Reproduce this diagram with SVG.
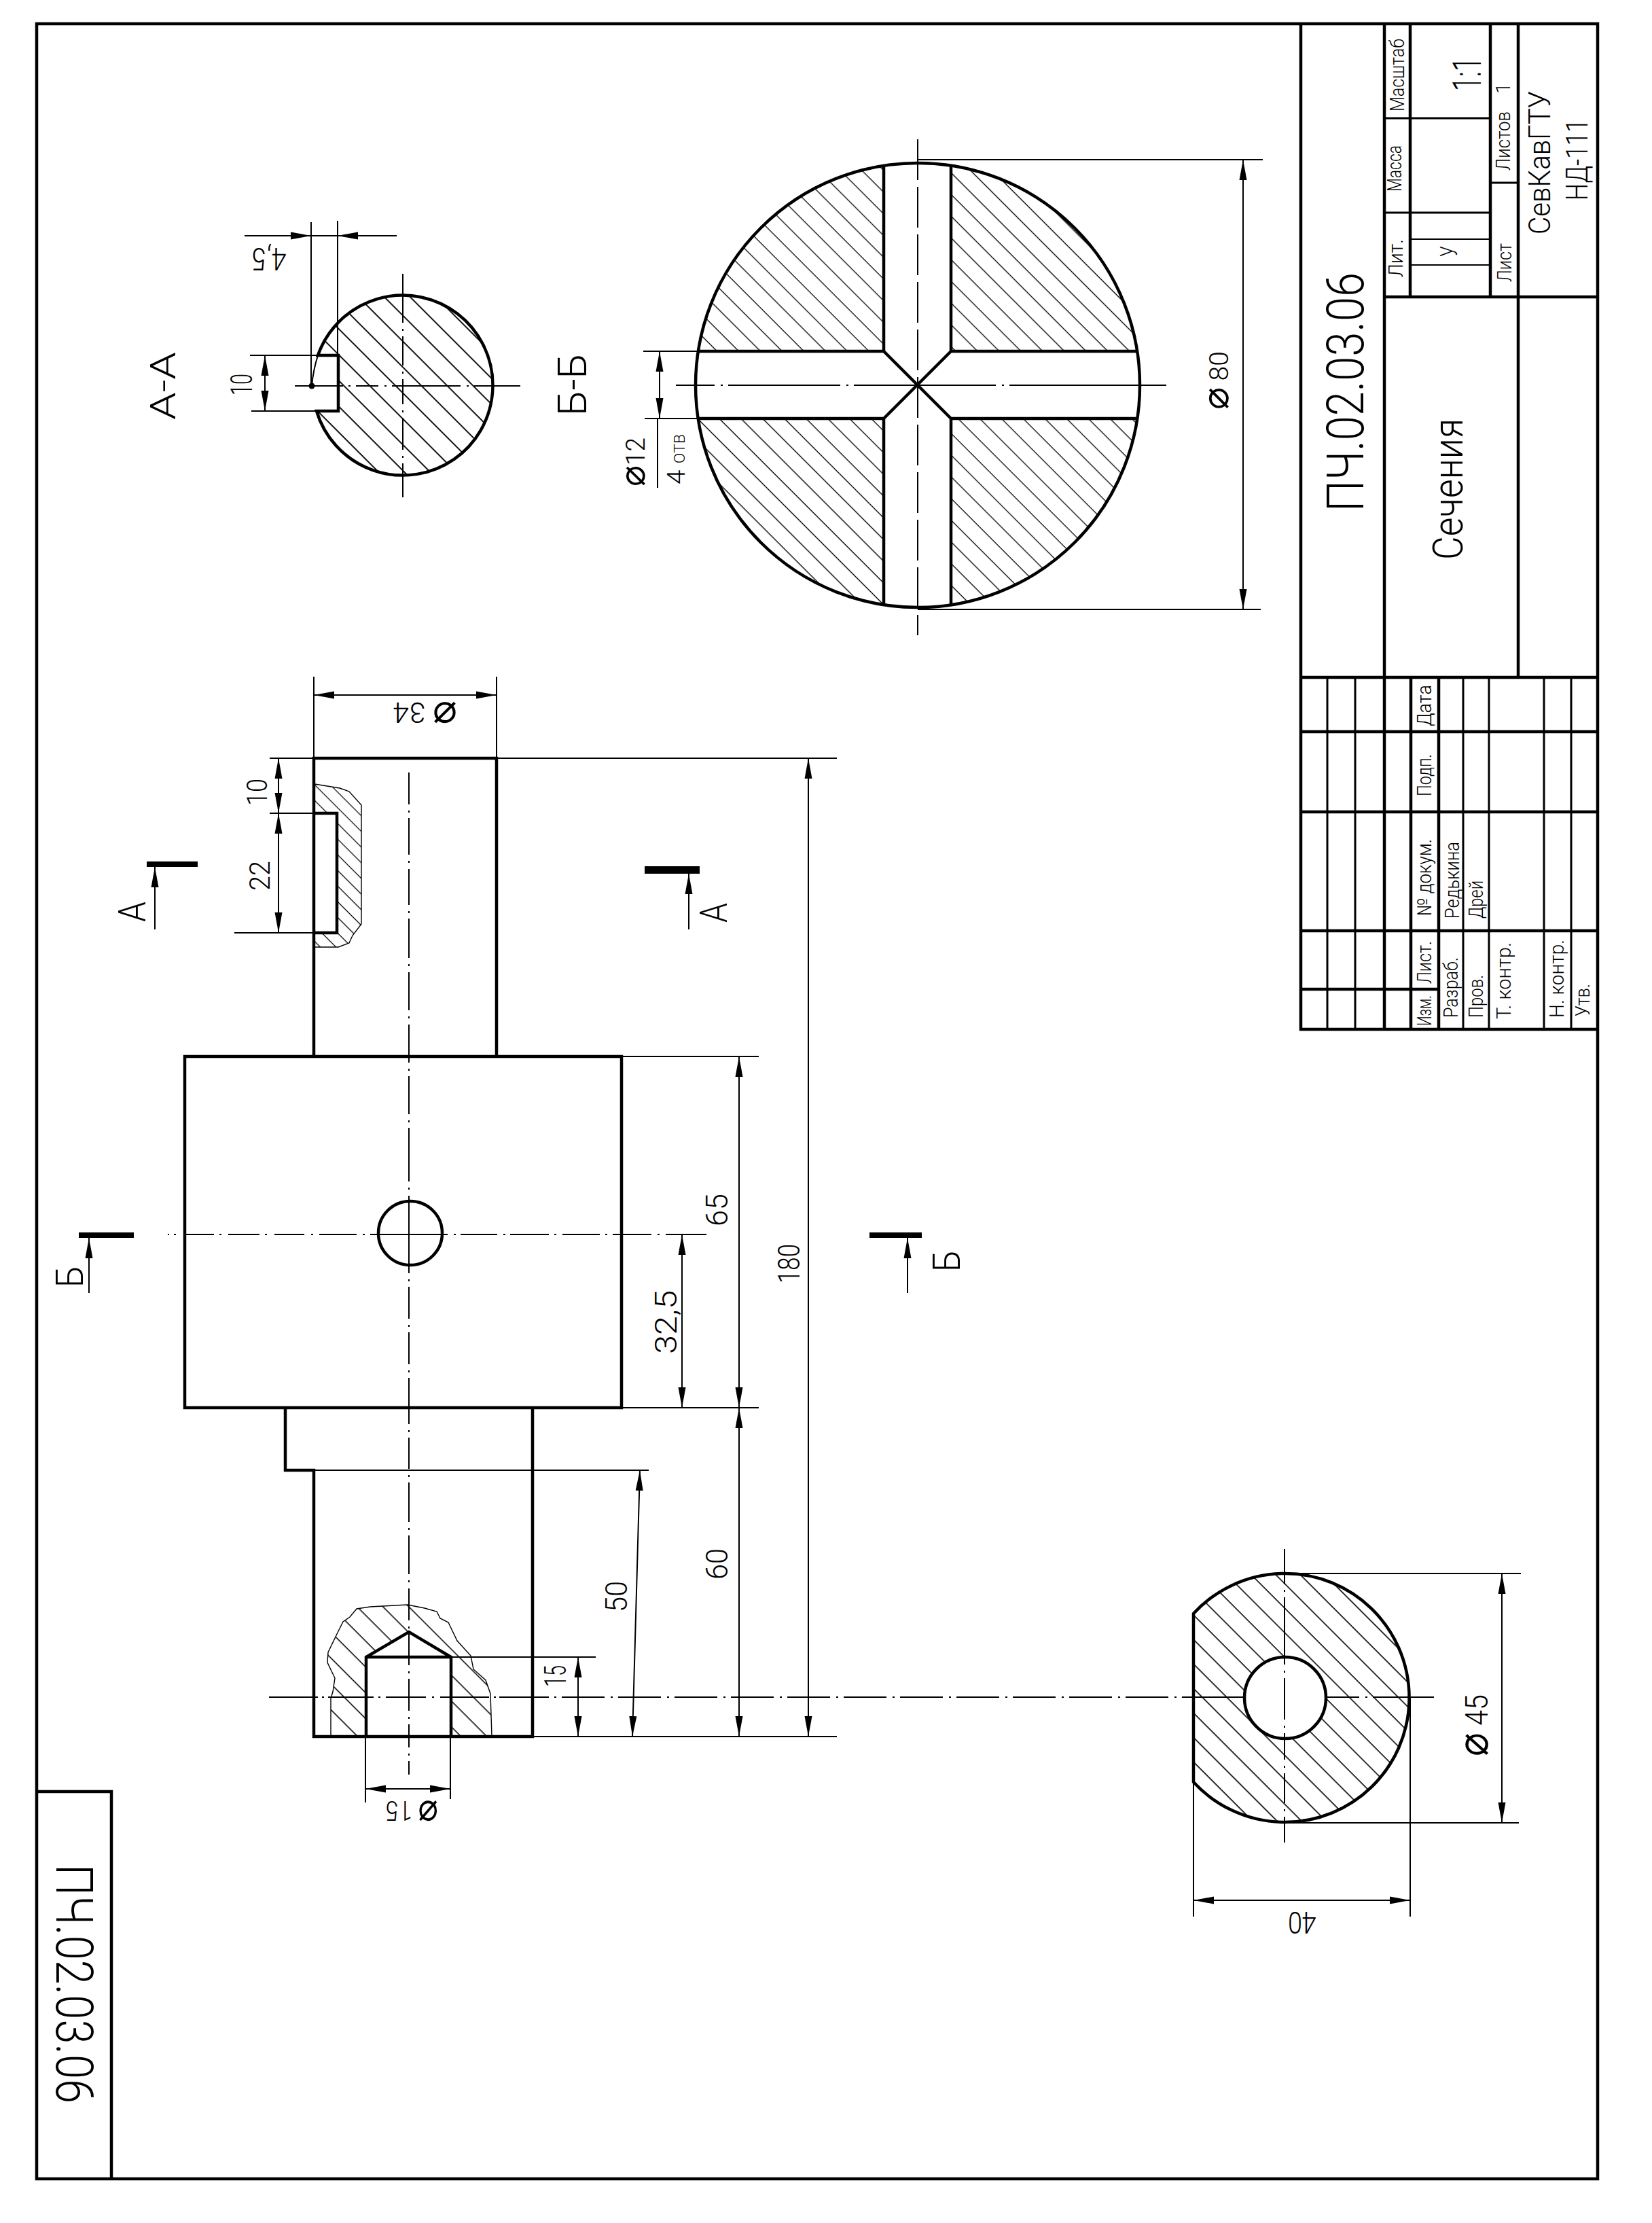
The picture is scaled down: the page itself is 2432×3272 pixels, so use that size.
<svg xmlns="http://www.w3.org/2000/svg" width="2432" height="3272" viewBox="0 0 2432 3272">
<style>
text{font-family:Roboto,"Liberation Sans","DejaVu Sans",sans-serif;font-weight:300;fill:#000;stroke:none}
.o{fill:none;stroke:#000;stroke-width:4.5}
.m{fill:none;stroke:#000;stroke-width:3}
.t{fill:none;stroke:#000;stroke-width:2}
.f{fill:none;stroke:#000;stroke-width:1.4}
.d{fill:none;stroke:#000;stroke-width:2;marker-start:url(#a);marker-end:url(#a)}
.e{fill:none;stroke:#000;stroke-width:2;marker-end:url(#a)}
.w{fill:#fff;stroke:none}
.b{fill:#000;stroke:none}
.p{font-size:1.4em;font-family:"DejaVu Sans",sans-serif;font-weight:200}
</style>
<defs>
<marker id="a" viewBox="0 -6 30 12" refX="30" refY="0" markerWidth="30" markerHeight="12" markerUnits="userSpaceOnUse" orient="auto-start-reverse"><path d="M0 -5.5L30 0L0 5.5Z" fill="#000"/></marker>
<pattern id="h1" patternUnits="userSpaceOnUse" width="30" height="26.9" patternTransform="translate(0 -130) rotate(45)"><line x1="0" y1="0" x2="30" y2="0" stroke="#000" stroke-width="3.6"/></pattern>
<pattern id="h2" patternUnits="userSpaceOnUse" width="30" height="22.6" patternTransform="translate(0 -1019) rotate(45)"><line x1="0" y1="0" x2="30" y2="0" stroke="#000" stroke-width="2.6"/></pattern>
<pattern id="h3" patternUnits="userSpaceOnUse" width="30" height="25.5" patternTransform="translate(0 727) rotate(45)"><line x1="0" y1="0" x2="30" y2="0" stroke="#000" stroke-width="3.2"/></pattern>
<pattern id="h4" patternUnits="userSpaceOnUse" width="30" height="16.3" patternTransform="translate(0 691) rotate(45)"><line x1="0" y1="0" x2="30" y2="0" stroke="#000" stroke-width="2.4"/></pattern>
<pattern id="h5" patternUnits="userSpaceOnUse" width="30" height="26.9" patternTransform="translate(0 1800) rotate(45)"><line x1="0" y1="0" x2="30" y2="0" stroke="#000" stroke-width="3"/></pattern>
<clipPath id="cb"><circle cx="1351" cy="567" r="327"/></clipPath>
</defs>
<rect width="2432" height="3272" fill="#fff"/>

<g id="frame">
<rect class="o" x="54" y="35" width="2298" height="3172"/>
<path class="o" d="M54 2637H164V3207"/>
<text transform="translate(83 2744) rotate(90)" font-size="76" textLength="352" lengthAdjust="spacingAndGlyphs">ПЧ.02.03.06</text>
</g>

<g id="title-block">
<path class="o" d="M1915 35V1515H2352M1915 997H2352M2038 35V1515M2235 35V997M2038 437H2352M2076 35V437M2194 35V437M2077 997V1515M2118 997V1515M1915 1077H2352M1915 1195H2352M1915 1370H2352M1915 1456H2118"/>
<path class="m" d="M2038 174H2194M2038 313H2194M2194 269H2235M1954 997V1515M1995 997V1515M2154 997V1515M2192 997V1515M2273 997V1515M2313 997V1515"/>
<path class="t" d="M2076 352H2194M2076 390H2194"/>
<g>
<text transform="translate(2067 164) rotate(-90)" font-size="29" textLength="107" lengthAdjust="spacingAndGlyphs">Масштаб</text>
<text transform="translate(2063 282) rotate(-90)" font-size="29" textLength="68" lengthAdjust="spacingAndGlyphs">Масса</text>
<text transform="translate(2065 408) rotate(-90)" font-size="29" textLength="56" lengthAdjust="spacingAndGlyphs">Лит.</text>
<text transform="translate(2180 134) rotate(-90)" font-size="60" textLength="50" lengthAdjust="spacingAndGlyphs">1:1</text>
<text transform="translate(2145 378) rotate(-90)" font-size="35" textLength="16" lengthAdjust="spacingAndGlyphs">У</text>
<text transform="translate(2225 415) rotate(-90)" font-size="29" textLength="57" lengthAdjust="spacingAndGlyphs">Лист</text>
<text transform="translate(2223 251) rotate(-90)" font-size="29" textLength="87" lengthAdjust="spacingAndGlyphs">Листов</text>
<text transform="translate(2223 138) rotate(-90)" font-size="29">1</text>
<text transform="translate(2282 345) rotate(-90)" font-size="45" textLength="211" lengthAdjust="spacingAndGlyphs">СевКавГТУ</text>
<text transform="translate(2337 295) rotate(-90)" font-size="45" textLength="120" lengthAdjust="spacingAndGlyphs">НД-111</text>
<text transform="translate(2007 753) rotate(-90)" font-size="76" textLength="352" lengthAdjust="spacingAndGlyphs">ПЧ.02.03.06</text>
<text transform="translate(2153 824) rotate(-90)" font-size="62" textLength="208" lengthAdjust="spacingAndGlyphs">Сечения</text>
<text transform="translate(2107 1510) rotate(-90)" font-size="29" textLength="45" lengthAdjust="spacingAndGlyphs">Изм.</text>
<text transform="translate(2107 1448) rotate(-90)" font-size="29" textLength="63" lengthAdjust="spacingAndGlyphs">Лист.</text>
<text transform="translate(2107 1348) rotate(-90)" font-size="29" textLength="113" lengthAdjust="spacingAndGlyphs">№ докум.</text>
<text transform="translate(2107 1172) rotate(-90)" font-size="29" textLength="62" lengthAdjust="spacingAndGlyphs">Подп.</text>
<text transform="translate(2107 1069) rotate(-90)" font-size="29" textLength="61" lengthAdjust="spacingAndGlyphs">Дата</text>
<text transform="translate(2146 1498) rotate(-90)" font-size="29" textLength="89" lengthAdjust="spacingAndGlyphs">Разраб.</text>
<text transform="translate(2148 1352) rotate(-90)" font-size="29" textLength="113" lengthAdjust="spacingAndGlyphs">Редькина</text>
<text transform="translate(2183 1498) rotate(-90)" font-size="29" textLength="63" lengthAdjust="spacingAndGlyphs">Пров.</text>
<text transform="translate(2183 1352) rotate(-90)" font-size="29" textLength="56" lengthAdjust="spacingAndGlyphs">Дрей</text>
<text transform="translate(2224 1500) rotate(-90)" font-size="29" textLength="113" lengthAdjust="spacingAndGlyphs">Т. контр.</text>
<text transform="translate(2302 1498) rotate(-90)" font-size="29" textLength="115" lengthAdjust="spacingAndGlyphs">Н. контр.</text>
<text transform="translate(2340 1496) rotate(-90)" font-size="29" textLength="48" lengthAdjust="spacingAndGlyphs">Утв.</text>
</g>
</g>

<g id="shaft">
<path d="M463 1154L500 1160L514 1165L532 1185V1360L519 1377L514 1388L498 1394H463Z" fill="url(#h4)" stroke="#000" stroke-width="1.4"/>
<rect class="w" x="463" y="1197" width="33" height="176"/>
<path d="M487 2556V2500L490 2490L493 2470L482 2447L483 2432L497 2403L505 2387L515 2380L525 2368L545 2365L600 2362L625 2367L643 2372L648 2382L660 2388L673 2415L693 2437L697 2457L715 2473L722 2493L724 2556Z" fill="url(#h5)" stroke="#000" stroke-width="1.4"/>
<path class="w" d="M539 2439L602 2402L664 2439V2556H539Z"/>
<path class="o" d="M462 1555V1116H731V1555M272 1555H915V2072H272ZM420 2072V2164H462V2556H784V2072"/>
<path class="o" d="M461 1197H496V1373H461M539 2556V2439L602 2402L664 2439V2556M539 2439H664"/>
<circle class="o" cx="604" cy="1815" r="47"/>
<path class="t" d="M602 1137V1184M602 1193v3M602 1204V1258M602 1267v3M602 1279V1332M602 1341v3M602 1352V1410M602 1419v3M602 1431V1487M602 1496v3M602 1508V1564M602 1573v3M602 1584V1640M602 1649v3M602 1660V1739M602 1748v3M602 1760V1874M602 1883v3M602 1894V1941M602 1950v3M602 1961V2008M602 2017v3M602 2028V2096M602 2105v3M602 2116V2162M602 2171v3M602 2182V2240M602 2249v3M602 2260V2317M602 2326v3M602 2338V2385M602 2394v3M602 2405V2451M602 2460v3M602 2471V2518M602 2527v3M602 2538V2572M602 2581v3M602 2592V2612"/>
<path class="t" d="M247 1817H249M256 1817h3M270 1817H315M323 1817h3M336 1817H382M390 1817h3M404 1817H448M458 1817h3M470 1817H525M534 1817h3M545 1817H659M668 1817h3M678 1817H732M741 1817h3M751 1817H808M816 1817h3M828 1817H883M891 1817h3M902 1817H959M968 1817h3M980 1817H1040"/>
<path class="t" d="M396 2498H468M474 2498h3M483 2498H550M557 2498h3M568 2498H627M636 2498h3M648 2498H720M727 2498h3M735 2498H808M816 2498h3M827 2498H890M899 2498h3M910 2498H973M982 2498h3M993 2498H1056M1065 2498h3M1076 2498H1139M1148 2498h3M1159 2498H1222M1231 2498h3M1242 2498H1305M1314 2498h3M1325 2498H1388M1397 2498h3M1408 2498H1471M1480 2498h3M1491 2498H1554M1563 2498h3M1574 2498H1637M1646 2498h3M1657 2498H1720M1729 2498h3M1740 2498H1842M1851 2498h3M1862 2498H1918M1927 2498h3M1938 2498H2001M2010 2498h3M2021 2498H2111"/>
</g>

<g id="section-a">
<path d="M466 605H498V523H468A132.5 132.5 0 1 1 466 605Z" fill="url(#h1)"/>
<path class="o" d="M466 605H498V523H468A132.5 132.5 0 1 1 466 605Z"/>
<path class="t" d="M468 523Q461 545 459 568"/>
<circle class="b" cx="459" cy="568" r="4.5"/>
<path class="t" d="M434 568H505M513 568h3M524 568H557M566 568h3M577 568H678M687 568h3M698 568H766"/>
<path class="t" d="M593 403V475M593 484v3M593 495V538M593 547v3M593 558V595M593 604v3M593 615V662M593 671v3M593 682V732"/>
<text transform="translate(258 618) rotate(-90)" font-size="52" textLength="100" lengthAdjust="spacingAndGlyphs">А-А</text>
<text transform="translate(863 612) rotate(-90)" font-size="60" textLength="92" lengthAdjust="spacingAndGlyphs">Б-Б</text>
</g>

<g id="section-b">
<circle cx="1351" cy="567" r="327" fill="url(#h2)"/>
<path class="w" clip-path="url(#cb)" d="M1301 200H1400V517H1700V616H1400V940H1301V616H1000V517H1301Z"/>
<circle class="o" cx="1351" cy="567" r="327"/>
<path class="o" d="M1301 244V517H1028M1400 244V517H1674M1301 890V616H1028M1400 890V616H1674M1301 517L1400 616M1400 517L1301 616"/>
<path class="t" d="M995 567H1052M1061 567h3M1072 567H1237M1246 567h3M1257 567H1466M1475 567h3M1486 567H1717"/>
<path class="t" stroke-dasharray="60 10" d="M1351 205V935"/>
</g>

<g id="section-c">
<path d="M1757 2375A183 183 0 1 1 1757 2623Z" fill="url(#h3)"/>
<circle cx="1892" cy="2499" r="60" fill="#fff"/>
<path class="o" d="M1757 2375A183 183 0 1 1 1757 2623Z"/>
<circle class="o" cx="1892" cy="2499" r="60"/>
<path class="t" d="M1891 2280V2332M1891 2340v3M1891 2351V2450M1891 2459v3M1891 2470V2531M1891 2540v3M1891 2551V2590M1891 2599v3M1891 2610V2654M1891 2663v3M1891 2674V2712"/>
</g>

<g id="section-marks">
<rect class="b" x="216" y="1268" width="75" height="8"/>
<line class="e" x1="228" y1="1368" x2="228" y2="1276"/>
<text transform="translate(214 1357) rotate(-90)" font-size="56" textLength="30" lengthAdjust="spacingAndGlyphs">А</text>
<rect class="b" x="949" y="1275" width="81" height="11"/>
<line class="e" x1="1014" y1="1368" x2="1014" y2="1286"/>
<text transform="translate(1070 1358) rotate(-90)" font-size="56" textLength="29" lengthAdjust="spacingAndGlyphs">А</text>
<rect class="b" x="116" y="1814" width="81" height="8"/>
<line class="e" x1="131" y1="1903" x2="131" y2="1822"/>
<text transform="translate(122 1895) rotate(-90)" font-size="56" textLength="32" lengthAdjust="spacingAndGlyphs">Б</text>
<rect class="b" x="1280" y="1814" width="77" height="8"/>
<line class="e" x1="1336" y1="1903" x2="1336" y2="1822"/>
<text transform="translate(1413 1872) rotate(-90)" font-size="56" textLength="32" lengthAdjust="spacingAndGlyphs">Б</text>
</g>

<g id="connectors">
<path class="t" d="M462 996V1116M731 996V1116M397 1116H462M731 1116H1232M397 1197H461M345 1373H461M915 1555H1117M915 2072H1117M462 2164H955M784 2556H1232M664 2439H877M538 2556V2653M663 2556V2648"/>
<line class="d" x1="462" y1="1023" x2="731" y2="1023"/>
<line class="d" x1="410" y1="1116" x2="410" y2="1197"/>
<line class="d" x1="410" y1="1197" x2="410" y2="1373"/>
<line class="d" x1="1088" y1="1555" x2="1088" y2="2072"/>
<line class="d" x1="1004" y1="1817" x2="1004" y2="2072"/>
<line class="d" x1="1088" y1="2072" x2="1088" y2="2556"/>
<line class="d" x1="942" y1="2164" x2="931" y2="2556"/>
<line class="d" x1="1190" y1="1116" x2="1190" y2="2556"/>
<line class="d" x1="851" y1="2439" x2="851" y2="2556"/>
<line class="d" x1="538" y1="2633" x2="663" y2="2633"/>
<path class="t" d="M458 327V568M497 325V523M368 523H470M370 605H465M458 347H497"/>
<line class="e" x1="360" y1="347" x2="458" y2="347"/>
<line class="e" x1="584" y1="347" x2="497" y2="347"/>
<line class="d" x1="390" y1="523" x2="390" y2="605"/>
<path class="t" d="M1351 235H1859M1351 897H1856M947 517H1026M949 616H1026M968 616V718"/>
<line class="d" x1="1830" y1="235" x2="1830" y2="897"/>
<line class="d" x1="971" y1="517" x2="971" y2="616"/>
<path class="t" d="M1891 2316H2239M1891 2683H2236M1757 2623V2821M2076 2498V2821"/>
<line class="d" x1="2211" y1="2316" x2="2211" y2="2683"/>
<line class="d" x1="1757" y1="2797" x2="2076" y2="2797"/>
</g>

<g id="dimension-labels">
<text transform="translate(673 1034) rotate(180)" font-size="42" textLength="94" lengthAdjust="spacingAndGlyphs"><tspan class="p">⌀</tspan> 34</text>
<text transform="translate(393 1186) rotate(-90)" font-size="42" textLength="40" lengthAdjust="spacingAndGlyphs">10</text>
<text transform="translate(397 1311) rotate(-90)" font-size="42" textLength="44" lengthAdjust="spacingAndGlyphs">22</text>
<text transform="translate(1071 1805) rotate(-90)" font-size="45" textLength="48" lengthAdjust="spacingAndGlyphs">65</text>
<text transform="translate(996 1993) rotate(-90)" font-size="45" textLength="94" lengthAdjust="spacingAndGlyphs">32,5</text>
<text transform="translate(1177 1889) rotate(-90)" font-size="45" textLength="58" lengthAdjust="spacingAndGlyphs">180</text>
<text transform="translate(1071 2325) rotate(-90)" font-size="45" textLength="46" lengthAdjust="spacingAndGlyphs">60</text>
<text transform="translate(923 2373) rotate(-90)" font-size="45" textLength="46" lengthAdjust="spacingAndGlyphs">50</text>
<text transform="translate(833 2483) rotate(-90)" font-size="45" textLength="32" lengthAdjust="spacingAndGlyphs">15</text>
<text transform="translate(645 2651) rotate(180)" font-size="41" textLength="77" lengthAdjust="spacingAndGlyphs"><tspan class="p">⌀</tspan> 15</text>
<text transform="translate(422 365) rotate(180)" font-size="46" textLength="51" lengthAdjust="spacingAndGlyphs">4,5</text>
<text transform="translate(371 582) rotate(-90)" font-size="45" textLength="32" lengthAdjust="spacingAndGlyphs">10</text>
<text transform="translate(1808 603) rotate(-90)" font-size="39" textLength="86" lengthAdjust="spacingAndGlyphs"><tspan class="p">⌀</tspan> 80</text>
<text transform="translate(949 716) rotate(-90)" font-size="38" textLength="72" lengthAdjust="spacingAndGlyphs"><tspan class="p">⌀</tspan>12</text>
<text transform="translate(1008 713) rotate(-90)" font-size="37" textLength="74" lengthAdjust="spacingAndGlyphs">4 <tspan font-size="22">ОТВ</tspan></text>
<text transform="translate(2190 2585) rotate(-90)" font-size="46" textLength="91" lengthAdjust="spacingAndGlyphs"><tspan class="p">⌀</tspan> 45</text>
<text transform="translate(1938 2814) rotate(180)" font-size="44" textLength="42" lengthAdjust="spacingAndGlyphs">40</text>
</g>
</svg>
